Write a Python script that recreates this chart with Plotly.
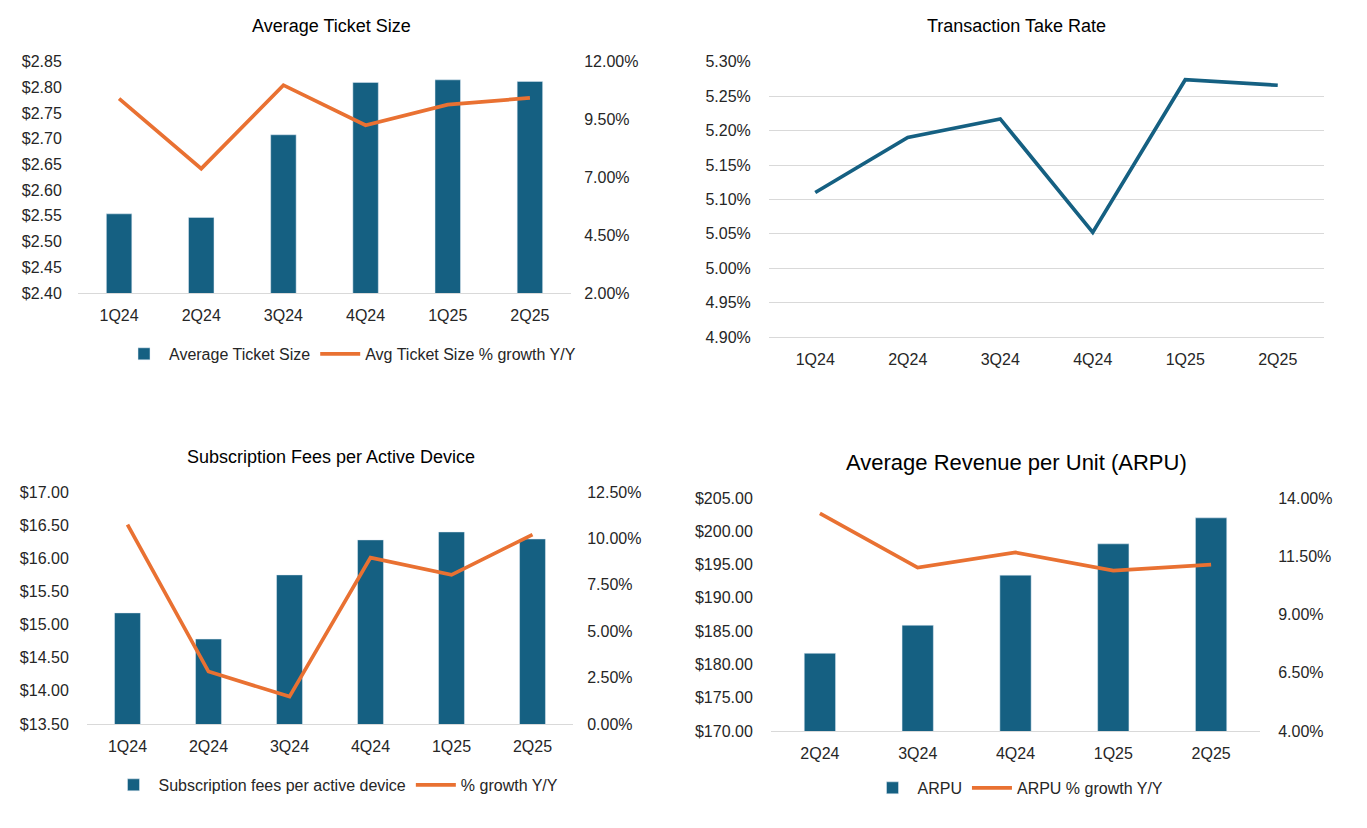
import plotly.graph_objects as go

# ---------------- data ----------------
quarters6 = ["1Q24", "2Q24", "3Q24", "4Q24", "1Q25", "2Q25"]
quarters5 = ["2Q24", "3Q24", "4Q24", "1Q25", "2Q25"]

avg_ticket = [2.554, 2.547, 2.708, 2.810, 2.815, 2.812]
avg_ticket_growth = [0.1041, 0.0738, 0.1099, 0.0926, 0.1015, 0.1044]

take_rate = [0.05110, 0.05190, 0.05217, 0.05052, 0.05274, 0.05266]

sub_fees = [15.175, 14.78, 15.748, 16.276, 16.396, 16.29]
sub_fees_growth = [0.1074, 0.0282, 0.0147, 0.0896, 0.0803, 0.1020]

arpu = [181.66, 185.87, 193.40, 198.10, 202.00]
arpu_growth = [0.1334, 0.1101, 0.1166, 0.1088, 0.1114]

# ---------------- style ----------------
PAGE_W, PAGE_H = 1367, 828
OFF = 8  # default body margin of the page
W, H = PAGE_W - 2 * OFF, PAGE_H - 2 * OFF
BLUE = "#156082"
ORANGE = "#E97132"
FONT = "Liberation Sans, Arial, sans-serif"
TICKC = "#262626"
GRID = "#D9D9D9"


def fx(px):
    return (px - OFF) / W


def fy(py):
    # vertical placement calibrated against the rendered snapshot
    page_y = (py - 8.3) / 0.979
    return 1 - (page_y - OFF) / H


def px_x(a, b):
    return [fx(a), fx(b)]


def px_y(top, bottom):
    return [fy(bottom), fy(top)]


tickfont = dict(family=FONT, size=16, color=TICKC)

fig = go.Figure()

# Chart 1: Average Ticket Size
fig.add_trace(go.Bar(x=quarters6, y=avg_ticket, name="Average Ticket Size",
                     marker_color=BLUE, width=0.31, xaxis="x", yaxis="y",
                     legend="legend"))
fig.add_trace(go.Scatter(x=quarters6, y=avg_ticket_growth, mode="lines",
                         name="Avg Ticket Size % growth Y/Y",
                         line=dict(color=ORANGE, width=3.7),
                         xaxis="x", yaxis="y2", legend="legend"))

# Chart 2: Transaction Take Rate
fig.add_trace(go.Scatter(x=quarters6, y=take_rate, mode="lines",
                         name="Transaction Take Rate",
                         line=dict(color=BLUE, width=3.7),
                         xaxis="x2", yaxis="y3", showlegend=False))

# Chart 3: Subscription Fees per Active Device
fig.add_trace(go.Bar(x=quarters6, y=sub_fees, name="Subscription fees per active device",
                     marker_color=BLUE, width=0.32, xaxis="x3", yaxis="y4",
                     legend="legend2"))
fig.add_trace(go.Scatter(x=quarters6, y=sub_fees_growth, mode="lines",
                         name="% growth Y/Y",
                         line=dict(color=ORANGE, width=3.7),
                         xaxis="x3", yaxis="y5", legend="legend2"))

# Chart 4: ARPU
fig.add_trace(go.Bar(x=quarters5, y=arpu, name="ARPU",
                     marker_color=BLUE, width=0.32, xaxis="x4", yaxis="y6",
                     legend="legend3"))
fig.add_trace(go.Scatter(x=quarters5, y=arpu_growth, mode="lines",
                         name="ARPU % growth Y/Y",
                         line=dict(color=ORANGE, width=3.7),
                         xaxis="x4", yaxis="y7", legend="legend3"))


def xax(dom, anchor, n):
    return dict(domain=dom, anchor=anchor, type="category", showgrid=False,
                range=[-0.5, n - 0.5],
                showline=True, linecolor=GRID, linewidth=1, zeroline=False,
                tickfont=tickfont, ticks="outside", ticklen=8,
                tickcolor="rgba(0,0,0,0)", fixedrange=True)


def yax(dom, anchor, rng, dtick, fmt, prefix="", side="left", overlay=None,
        grid=False, tl=14):
    d = dict(domain=dom, anchor=anchor, range=rng, dtick=dtick, tick0=rng[0],
             tickformat=fmt, tickprefix=prefix, side=side, showgrid=grid,
             gridcolor=GRID, gridwidth=1, zeroline=False, showline=False,
             tickfont=tickfont, ticks="outside", ticklen=tl,
             tickcolor="rgba(0,0,0,0)", fixedrange=True)
    if overlay:
        d["overlaying"] = overlay
    return d


x1 = px_x(78, 571)
y1 = px_y(62, 293)
x2 = px_x(769, 1324)
y2 = px_y(62, 337)
x3 = px_x(87, 573)
y3 = px_y(492, 724)
x4 = px_x(771, 1260)
y4 = px_y(498, 731)

legfont = dict(family=FONT, size=16, color=TICKC)


def title(text, cx, cy, size):
    return dict(text=text, x=fx(cx), y=fy(cy), xref="paper", yref="paper",
                showarrow=False, xanchor="center", yanchor="middle",
                font=dict(family=FONT, size=size, color="#000000"))


fig.update_layout(
    width=W, height=H,
    margin=dict(l=0, r=0, t=0, b=0),
    paper_bgcolor="white", plot_bgcolor="white",
    font=dict(family=FONT, color=TICKC),
    xaxis=xax(x1, "y", 6),
    yaxis=yax(y1, "x", [2.40, 2.85], 0.05, ".2f", prefix="$", tl=12),
    yaxis2=yax(y1, "x", [0.02, 0.12], 0.025, ".2%", side="right", overlay="y", tl=9),
    xaxis2=xax(x2, "y3", 6),
    yaxis3=yax(y2, "x2", [0.049, 0.053], 0.0005, ".2%", grid=True),
    xaxis3=xax(x3, "y4", 6),
    yaxis4=yax(y3, "x3", [13.5, 17.0], 0.5, ".2f", prefix="$"),
    yaxis5=yax(y3, "x3", [0.0, 0.125], 0.025, ".2%", side="right", overlay="y4", tl=10),
    xaxis4=xax(x4, "y6", 5),
    yaxis6=yax(y4, "x4", [170, 205], 5, ".2f", prefix="$"),
    yaxis7=yax(y4, "x4", [0.04, 0.14], 0.025, ".2%", side="right", overlay="y6"),
    legend=dict(orientation="h", x=fx(350), xanchor="center", y=fy(354),
                yanchor="middle", font=legfont, bgcolor="rgba(0,0,0,0)",
                itemwidth=40),
    legend2=dict(orientation="h", x=fx(336), xanchor="center", y=fy(785),
                 yanchor="middle", font=legfont, bgcolor="rgba(0,0,0,0)",
                 itemwidth=40),
    legend3=dict(orientation="h", x=fx(1018), xanchor="center", y=fy(788),
                 yanchor="middle", font=legfont, bgcolor="rgba(0,0,0,0)",
                 itemwidth=40),
    showlegend=True,
    annotations=[
        title("Average Ticket Size", 331, 26, 18),
        title("Transaction Take Rate", 1016, 26, 18),
        title("Subscription Fees per Active Device", 331, 457, 18),
        title("Average Revenue per Unit (ARPU)", 1016, 463, 22),
    ],
)

fig.write_html("out.html", config={"displayModeBar": False})
